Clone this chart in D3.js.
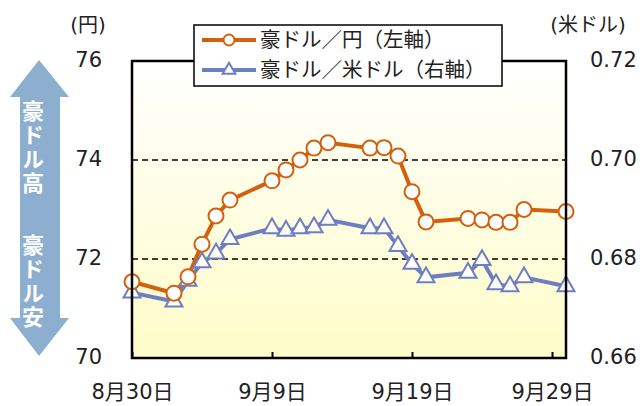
<!DOCTYPE html>
<html>
<head>
<meta charset="utf-8">
<script src="https://cdn.jsdelivr.net/npm/d3@7"></script>
<style>
  body { margin: 0; background: #fff; }
  svg text { font-family: "DejaVu Sans", "Noto Sans CJK JP", sans-serif; fill: #222; }
</style>
</head>
<body>
<svg id="chart" width="640" height="406"></svg>
<script>
// business days, Aug 30 - Sep 30
const dates = ['2019-08-30', '2019-09-02', '2019-09-03', '2019-09-04', '2019-09-05', '2019-09-06',
  '2019-09-09', '2019-09-10', '2019-09-11', '2019-09-12', '2019-09-13',
  '2019-09-16', '2019-09-17', '2019-09-18', '2019-09-19', '2019-09-20',
  '2019-09-23', '2019-09-24', '2019-09-25', '2019-09-26', '2019-09-27', '2019-09-30'];
// 豪ドル／円 (left axis)
const audJpy = [71.54, 71.31, 71.64, 72.30, 72.87, 73.19,
  73.58, 73.80, 74.00, 74.24, 74.35,
  74.24, 74.25, 74.08, 73.36, 72.75,
  72.82, 72.79, 72.74, 72.74, 73.00, 72.96];
// 豪ドル／米ドル (right axis)
const audUsd = [0.6732, 0.6714, 0.6756, 0.6793, 0.6811, 0.6840,
  0.6862, 0.6857, 0.6862, 0.6864, 0.6879,
  0.6862, 0.6862, 0.6826, 0.6790, 0.6763,
  0.6772, 0.6798, 0.6749, 0.6745, 0.6763, 0.6745];
const xTicks = ['2019-08-30', '2019-09-09', '2019-09-19', '2019-09-29'];
const leftTicks = [70, 72, 74, 76];
const rightTicks = [0.66, 0.68, 0.70, 0.72];
const seriesNames = ['豪ドル／円（左軸）', '豪ドル／米ドル（右軸）'];

const parse = d3.timeParse('%Y-%m-%d');
const orange = '#d4600e';
const blue = '#6e7fc0';

const plotLeft = 132, plotRight = 566, plotTop = 61, plotBottom = 358;
const svg = d3.select('#chart');

const x = d3.scaleTime()
  .domain([parse('2019-08-30'), parse('2019-09-30')])
  .range([plotLeft, plotRight]);
const yL = d3.scaleLinear().domain([70, 76]).range([plotBottom, plotTop]);
const yR = d3.scaleLinear().domain([0.66, 0.72]).range([plotBottom, plotTop]);

// plot background gradient
const grad = svg.append('defs').append('linearGradient')
  .attr('id', 'bg').attr('x1', 0).attr('y1', 0).attr('x2', 0).attr('y2', 1);
grad.append('stop').attr('offset', '0%').attr('stop-color', '#ffffff');
grad.append('stop').attr('offset', '100%').attr('stop-color', '#fffcc8');

svg.append('rect')
  .attr('x', plotLeft).attr('y', plotTop)
  .attr('width', plotRight - plotLeft).attr('height', plotBottom - plotTop)
  .attr('fill', 'url(#bg)');

// dashed gridlines
svg.append('g').selectAll('line')
  .data([72, 74])
  .enter().append('line')
  .attr('x1', plotLeft).attr('x2', plotRight)
  .attr('y1', d => yL(d)).attr('y2', d => yL(d))
  .attr('stroke', '#000').attr('stroke-width', 1.5)
  .attr('stroke-dasharray', '6,4');

// lines
const pts = dates.map((d, i) => ({ date: parse(d), jpy: audJpy[i], usd: audUsd[i] }));

svg.append('path')
  .datum(pts)
  .attr('fill', 'none').attr('stroke', blue).attr('stroke-width', 4)
  .attr('d', d3.line().x(d => x(d.date)).y(d => yR(d.usd)));

svg.append('path')
  .datum(pts)
  .attr('fill', 'none').attr('stroke', orange).attr('stroke-width', 4)
  .attr('d', d3.line().x(d => x(d.date)).y(d => yL(d.jpy)));

const tri = d3.symbol().type(d3.symbolTriangle).size(125);

svg.append('g').selectAll('path')
  .data(pts)
  .enter().append('path')
  .attr('d', tri)
  .attr('transform', d => `translate(${x(d.date)},${yR(d.usd)})`)
  .attr('fill', '#fff').attr('stroke', blue).attr('stroke-width', 2);

svg.append('g').selectAll('circle')
  .data(pts)
  .enter().append('circle')
  .attr('cx', d => x(d.date)).attr('cy', d => yL(d.jpy))
  .attr('r', 7.5)
  .attr('fill', '#fff').attr('stroke', orange).attr('stroke-width', 2);

// frame
svg.append('rect')
  .attr('x', plotLeft).attr('y', plotTop)
  .attr('width', plotRight - plotLeft).attr('height', plotBottom - plotTop)
  .attr('fill', 'none').attr('stroke', '#000').attr('stroke-width', 2.5);

// axes
const xAxis = svg.append('g')
  .attr('transform', `translate(0,${plotBottom})`)
  .call(d3.axisBottom(x)
    .tickValues(xTicks.map(parse))
    .tickSize(-6)
    .tickPadding(26)
    .tickFormat(d => `${d.getMonth() + 1}月${d.getDate()}日`));
xAxis.select('.domain').remove();
xAxis.selectAll('line').attr('stroke', '#000').attr('stroke-width', 2);
xAxis.selectAll('text').attr('font-size', 21).attr('fill', '#222');

const lAxis = svg.append('g')
  .attr('transform', `translate(${plotLeft},0)`)
  .call(d3.axisLeft(yL).tickValues(leftTicks).tickSize(0).tickPadding(30)
    .tickFormat(d3.format('d')));
lAxis.select('.domain').remove();
lAxis.selectAll('text').attr('font-size', 21).attr('fill', '#222').attr('dy', '0.25em');

const rAxis = svg.append('g')
  .attr('transform', `translate(${plotRight},0)`)
  .call(d3.axisRight(yR).tickValues(rightTicks).tickSize(0).tickPadding(24)
    .tickFormat(d3.format('.2f')));
rAxis.select('.domain').remove();
rAxis.selectAll('text').attr('font-size', 21).attr('fill', '#222').attr('dy', '0.25em');

// unit labels
svg.append('text').attr('x', 88).attr('y', 32).attr('text-anchor', 'middle')
  .attr('font-size', 20).text('(円)');
svg.append('text').attr('x', 588).attr('y', 32).attr('text-anchor', 'middle')
  .attr('font-size', 20).text('(米ドル)');

// legend
const legend = svg.append('g');
legend.append('rect')
  .attr('x', 194).attr('y', 25).attr('width', 308).attr('height', 61)
  .attr('fill', '#fff').attr('stroke', '#000').attr('stroke-width', 1.5);
const rows = [
  { name: seriesNames[0], color: orange, y: 40 },
  { name: seriesNames[1], color: blue, y: 70 }
];
rows.forEach((r, i) => {
  legend.append('line')
    .attr('x1', 202).attr('x2', 256).attr('y1', r.y).attr('y2', r.y)
    .attr('stroke', r.color).attr('stroke-width', 4);
  if (i === 0) {
    legend.append('circle').attr('cx', 229).attr('cy', r.y).attr('r', 5.5)
      .attr('fill', '#fff').attr('stroke', r.color).attr('stroke-width', 2);
  } else {
    legend.append('path').attr('d', d3.symbol().type(d3.symbolTriangle).size(70))
      .attr('transform', `translate(229,${r.y})`)
      .attr('fill', '#fff').attr('stroke', r.color).attr('stroke-width', 2);
  }
  legend.append('text')
    .attr('x', 260).attr('y', r.y).attr('dy', '0.35em')
    .attr('font-size', 20.5)
    .style('font-family', '"Noto Sans CJK JP", sans-serif')
    .text(r.name);
});

// double-headed arrow on the left
const arrowColor = '#8cafd0';
svg.append('path')
  .attr('d', 'M39,60 L69,97 L60,97 L60,318 L69,318 L39,356 L10,318 L20,318 L20,97 L10,97 Z')
  .attr('fill', arrowColor);

// vertical labels inside the arrow
svg.append('g').selectAll('text')
  .data([{ t: '豪ドル高', y: 100 }, { t: '豪ドル安', y: 234 }])
  .enter().append('text')
  .attr('x', 33).attr('y', d => d.y)
  .attr('font-size', 22).attr('font-weight', 'bold')
  .attr('letter-spacing', 2)
  .style('writing-mode', 'vertical-rl')
  .style('font-family', '"Noto Sans CJK JP", sans-serif')
  .style('fill', '#fff')
  .text(d => d.t);
</script>
</body>
</html>
